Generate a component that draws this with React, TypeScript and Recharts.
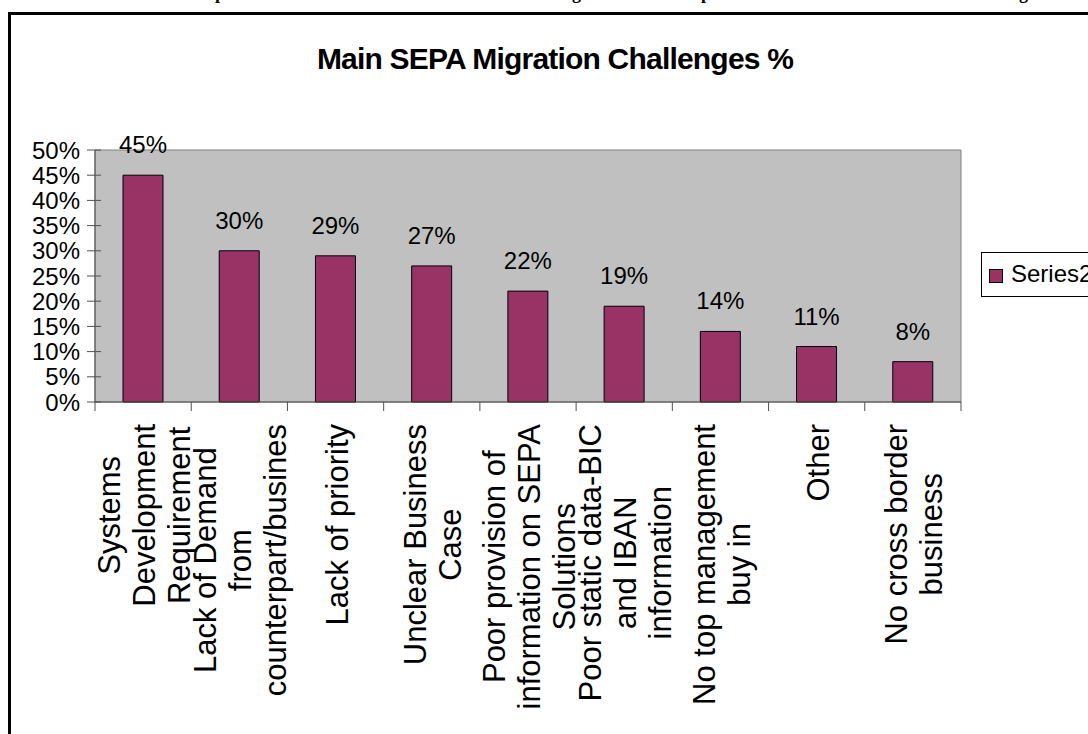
import React from 'react';
import {
  BarChart,
  Bar,
  XAxis,
  YAxis,
  CartesianGrid,
  ReferenceArea,
  LabelList,
  Legend,
} from 'recharts';

const TITLE = 'Main SEPA Migration Challenges %';
const SERIES_NAME = 'Series2';

const CATEGORIES = [
  'Systems Development Requirement',
  'Lack of Demand from counterpart/busines',
  'Lack of priority',
  'Unclear Business Case',
  'Poor provision of information on SEPA Solutions',
  'Poor static data-BIC and IBAN information',
  'No top management buy in',
  'Other',
  'No cross border business',
];

const LABEL_LINES = [
  ['Systems', 'Development', 'Requirement'],
  ['Lack of Demand', 'from', 'counterpart/busines'],
  ['Lack of priority'],
  ['Unclear Business', 'Case'],
  ['Poor provision of', 'information on SEPA', 'Solutions'],
  ['Poor static data-BIC', 'and IBAN', 'information'],
  ['No top management', 'buy in'],
  ['Other'],
  ['No cross border', 'business'],
];

const VALUES = [45, 30, 29, 27, 22, 19, 14, 11, 8];

const Y_TICKS = [0, 5, 10, 15, 20, 25, 30, 35, 40, 45, 50];

const data = CATEGORIES.map((name, i) => ({ name, value: VALUES[i] }));

const FONT = '"Liberation Sans", Arial, sans-serif';
const SERIF = '"Liberation Serif", "Times New Roman", serif';

const CHART_W = 1088;
const CHART_H = 734;
const MARGIN = { top: 150, right: 127, bottom: 0, left: 8 };
const Y_AXIS_W = 87;
const X_AXIS_H = 332;
const PLOT_W = CHART_W - MARGIN.left - MARGIN.right - Y_AXIS_W;
const HALF_BAND = PLOT_W / CATEGORIES.length / 2;

const X_FONT = 31;
const LINE_STEP = 35;

let measureCtx: CanvasRenderingContext2D | null = null;
function measure(text: string, size: number): number {
  try {
    if (!measureCtx) {
      const c = document.createElement('canvas');
      measureCtx = c.getContext('2d');
    }
    if (measureCtx) {
      measureCtx.font = `${size}px "Liberation Sans", Arial, sans-serif`;
      return measureCtx.measureText(text).width;
    }
  } catch (e) {
    /* ignore */
  }
  return text.length * size * 0.5;
}

const XTick = (props: any) => {
  const { x, y, payload } = props;
  const idx = CATEGORIES.indexOf(payload.value);
  const lines = LABEL_LINES[idx] || [String(payload.value)];
  const axisY = y - 8;
  const half = HALF_BAND;
  const n = lines.length;
  const maxW = Math.max(...lines.map((l) => measure(l, X_FONT)));
  const cy = axisY + 22 + maxW / 2;
  return (
    <g>
      <line x1={x - half} x2={x - half} y1={axisY} y2={axisY + 9} stroke="#505050" />
      {idx === CATEGORIES.length - 1 && (
        <line x1={x + half} x2={x + half} y1={axisY} y2={axisY + 9} stroke="#505050" />
      )}
      {lines.map((l, i) => {
        const bx = x + (i - (n - 1) / 2) * LINE_STEP + 12;
        return (
          <text
            key={i}
            x={bx}
            y={cy}
            transform={`rotate(-90 ${bx} ${cy})`}
            textAnchor="middle"
            fontFamily={FONT}
            fontSize={X_FONT}
            fill="#000"
          >
            {l}
          </text>
        );
      })}
    </g>
  );
};

const YTick = (props: any) => {
  const { x, y, payload } = props;
  const ax = x + 15;
  return (
    <g>
      <line x1={ax - 8} x2={ax + 6} y1={y} y2={y} stroke="#505050" />
      <text x={x} y={y} dy={8.5} textAnchor="end" fontFamily={FONT} fontSize={24} fill="#000">
        {`${payload.value}%`}
      </text>
    </g>
  );
};

const LegendBox = () => (
  <div
    style={{
      width: 130,
      height: 43,
      border: '1px solid #000',
      background: '#fff',
      position: 'relative',
      fontFamily: FONT,
      boxSizing: 'content-box',
    }}
  >
    <div
      style={{
        position: 'absolute',
        left: 7,
        top: 16,
        width: 12,
        height: 12,
        background: '#993366',
        border: '1px solid #000',
      }}
    />
    <div
      style={{
        position: 'absolute',
        left: 29,
        top: 5,
        fontSize: 24,
        lineHeight: '32px',
        color: '#000',
        whiteSpace: 'nowrap',
      }}
    >
      {SERIES_NAME}
    </div>
  </div>
);

const FRAGMENTS = [
  { ch: 'p', left: 215 },
  { ch: 'g', left: 572 },
  { ch: 'p', left: 701 },
  { ch: 'g', left: 1019 },
];

export default function App() {
  return (
    <div
      style={{
        position: 'absolute',
        left: 0,
        top: 0,
        width: CHART_W,
        height: CHART_H,
        overflow: 'hidden',
        background: '#fff',
      }}
    >
      {FRAGMENTS.map((f, i) => (
        <div
          key={i}
          style={{
            position: 'absolute',
            left: f.left,
            top: -16,
            fontFamily: SERIF,
            fontWeight: 'bold',
            fontSize: 18,
            lineHeight: '18px',
            color: '#000',
          }}
        >
          {f.ch}
        </div>
      ))}
      <div style={{ position: 'absolute', left: 8, top: 12, width: 3, height: CHART_H, background: '#000' }} />
      <div style={{ position: 'absolute', left: 8, top: 12, width: CHART_W, height: 3, background: '#000' }} />
      <div
        style={{
          position: 'absolute',
          left: 255,
          top: 44,
          width: 600,
          textAlign: 'center',
          fontFamily: FONT,
          fontWeight: 'bold',
          fontSize: 30,
          lineHeight: '30px',
          letterSpacing: -0.8,
          color: '#000',
          whiteSpace: 'nowrap',
          zIndex: 2,
        }}
      >
        {TITLE}
      </div>
      <div style={{ position: 'absolute', left: 0, top: 0 }}>
        <BarChart width={CHART_W} height={CHART_H} data={data} margin={MARGIN}>
          <CartesianGrid horizontal={false} vertical={false} fill="#C0C0C0" fillOpacity={1} />
          <ReferenceArea y1={0} y2={50} fill="none" stroke="#808080" strokeWidth={1} ifOverflow="visible" />
          <XAxis
            dataKey="name"
            interval={0}
            height={X_AXIS_H}
            tickLine={false}
            tickSize={8}
            tickMargin={0}
            axisLine={{ stroke: '#505050' }}
            tick={<XTick />}
          />
          <YAxis
            domain={[0, 50]}
            ticks={Y_TICKS}
            interval={0}
            width={Y_AXIS_W}
            tickLine={false}
            tickSize={8}
            tickMargin={7}
            axisLine={{ stroke: '#505050' }}
            tick={<YTick />}
          />
          <Legend
            layout="vertical"
            align="center"
            verticalAlign="middle"
            content={() => <LegendBox />}
            wrapperStyle={{ position: 'absolute', left: 981, top: 252, width: 140, height: 45 }}
          />
          <Bar
            dataKey="value"
            name={SERIES_NAME}
            fill="#993366"
            stroke="#000"
            strokeWidth={1}
            barSize={40}
            isAnimationActive={false}
          >
            <LabelList
              dataKey="value"
              position="top"
              offset={22}
              formatter={(v: any) => `${v}%`}
              fill="#000"
              fontSize={24}
              fontFamily={FONT}
            />
          </Bar>
        </BarChart>
      </div>
    </div>
  );
}
